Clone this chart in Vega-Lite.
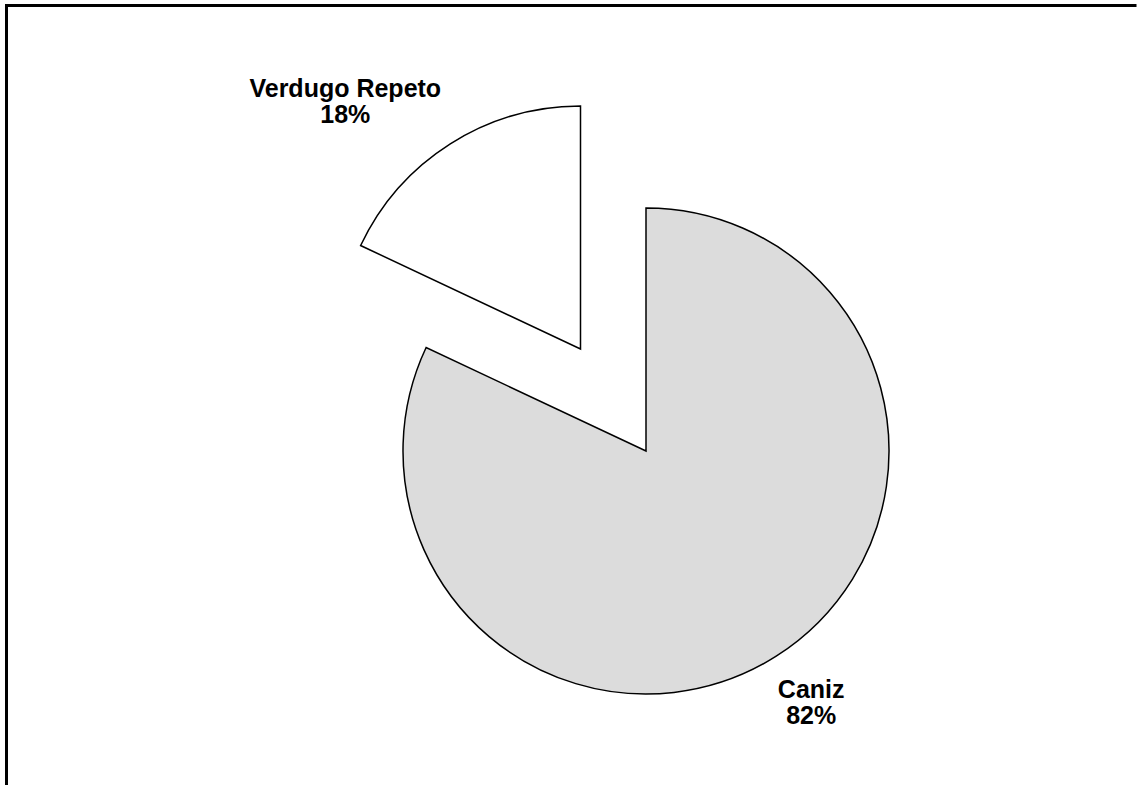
{
  "$schema": "https://vega.github.io/schema/vega-lite/v6.json",
  "width": 1130,
  "height": 779.5,
  "autosize": {"type": "none"},
  "padding": {"left": 6.5, "top": 5.5, "right": 4.5, "bottom": 0},
  "background": "white",
  "view": {"stroke": "black", "strokeWidth": 3, "fill": "white", "strokeDash": [1130, 1909.5, 790]},
  "data": {
    "values": [
      {"category": "Caniz", "value": 82, "label": "Caniz\n82%"},
      {"category": "Verdugo Repeto", "value": 18, "label": "Verdugo Repeto\n18%"}
    ]
  },
  "encoding": {
    "theta": {"field": "value", "type": "quantitative", "stack": true}
  },
  "layer": [
    {
      "mark": {"type": "arc", "outerRadius": 243, "stroke": "black", "strokeWidth": 1.5, "fill": "#dcdcdc", "xOffset": 74.5, "yOffset": 55.75},
      "encoding": {"opacity": {"condition": {"test": "datum.category === 'Caniz'", "value": 1}, "value": 0}}
    },
    {
      "mark": {"type": "arc", "outerRadius": 243, "stroke": "black", "strokeWidth": 1.5, "fill": "white", "xOffset": 9, "yOffset": -46.25},
      "encoding": {"opacity": {"condition": {"test": "datum.category === 'Verdugo Repeto'", "value": 1}, "value": 0}}
    },
    {
      "mark": {"type": "text", "radius": 299, "xOffset": 74.5, "yOffset": 55.75, "dx": 5, "dy": -13, "font": "Liberation Sans", "fontWeight": "bold", "fontSize": 25, "lineBreak": "\n", "lineHeight": 26, "align": "center", "baseline": "middle", "color": "black"},
      "encoding": {"text": {"condition": {"test": "datum.category === 'Caniz'", "field": "label"}, "value": ""}}
    },
    {
      "mark": {"type": "text", "radius": 299, "xOffset": 9, "yOffset": -46.25, "dx": -75, "dy": -8, "font": "Liberation Sans", "fontWeight": "bold", "fontSize": 25, "lineBreak": "\n", "lineHeight": 26, "align": "center", "baseline": "middle", "color": "black"},
      "encoding": {"text": {"condition": {"test": "datum.category === 'Verdugo Repeto'", "field": "label"}, "value": ""}}
    }
  ]
}
